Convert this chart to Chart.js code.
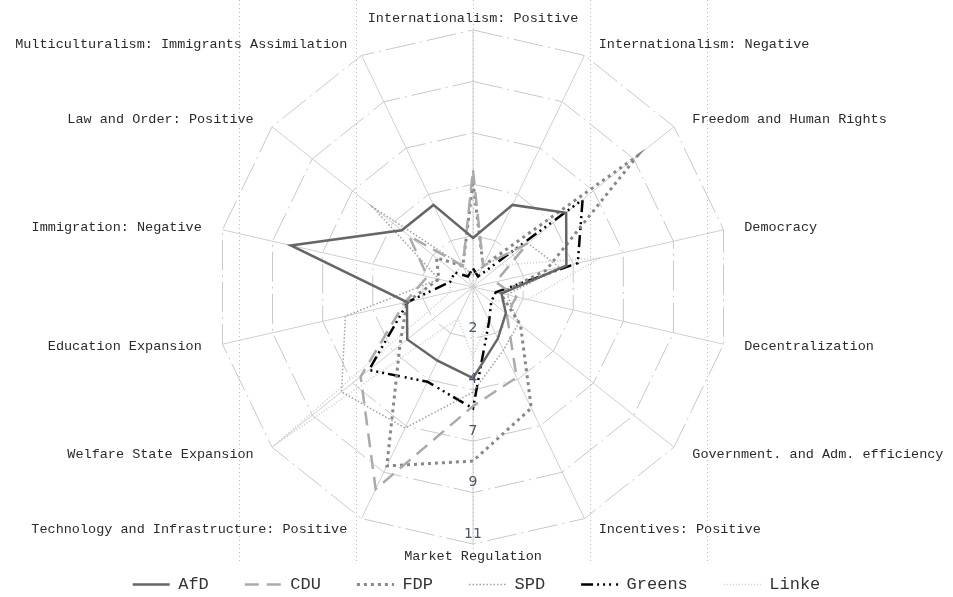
<!DOCTYPE html>
<html>
<head>
<meta charset="utf-8">
<script src="https://cdn.jsdelivr.net/npm/chart.js@4.4.1/dist/chart.umd.min.js"></script>
<style>
    html, body { margin: 0; padding: 0; background: #fff; }
    #wrap { width: 953px; height: 597px; }
</style>
</head>
<body>
<div id="wrap"><canvas id="radarChart" width="953" height="597"></canvas></div>
<script>
// Policy dimensions, clockwise from the top
const categories = [
    'Internationalism: Positive',
    'Internationalism: Negative',
    'Freedom and Human Rights',
    'Democracy',
    'Decentralization',
    'Government. and Adm. efficiency',
    'Incentives: Positive',
    'Market Regulation',
    'Technology and Infrastructure: Positive',
    'Welfare State Expansion',
    'Education Expansion',
    'Immigration: Negative',
    'Law and Order: Positive',
    'Multiculturalism: Immigrants Assimilation'
];

// Share of manifesto per dimension
const afdValues    = [2.1, 3.9, 5.1, 4.1, 1.25, 1.8, 2.45, 3.9, 3.5, 3.6, 2.9, 8.0, 3.9, 3.9];
const cduValues    = [5.0, 1.0, 3.0, 1.0, 1.9, 1.85, 4.3, 5.1, 9.6, 6.15, 3.0, 2.0, 3.5, 1.0];
const fdpValues    = [4.5, 1.0, 9.0, 3.2, 1.2, 2.6, 5.75, 7.45, 8.5, 4.0, 2.9, 1.5, 2.0, 1.0];
const spdValues    = [0.5, 1.0, 3.0, 3.8, 1.5, 2.5, 3.0, 4.5, 6.7, 7.2, 5.6, 1.5, 5.5, 1.0];
const greensValues = [0.8, 0.5, 6.0, 4.6, 1.0, 1.0, 1.6, 5.2, 4.5, 5.7, 2.85, 1.0, 1.0, 0.5];
const linkeValues  = [0.5, 0.5, 1.5, 5.6, 2.4, 1.0, 1.5, 3.0, 1.5, 10.9, 1.0, 1.0, 1.0, 1.0];

// Radial axis: 5 rings up to 11, labels rounded
const axisMax = 11;
const ringCount = 5;
// Vertical reference lines
const verticalMarks = [-10, -5, 0, 5, 10];

const labelFont = '13.5px "Liberation Mono", "Courier New", monospace';

// Fixed plot geometry
const plotCenter = { x: 473, y: 287 };
const plotRadius = 257;

const radarGeometry = {
    id: 'radarGeometry',
    afterLayout(chart) {
        const r = chart.scales.r;
        r.xCenter = plotCenter.x;
        r.yCenter = plotCenter.y;
        r.drawingArea = plotRadius;
    }
};

// Dotted vertical lines behind the datasets
const verticalGrid = {
    id: 'verticalGrid',
    beforeDatasetsDraw(chart) {
        const r = chart.scales.r;
        const ctx = chart.ctx;
        ctx.save();
        ctx.strokeStyle = '#bdbdbd';
        ctx.lineWidth = 1;
        ctx.setLineDash([1, 3]);
        verticalMarks.forEach(v => {
            const x = r.xCenter + Math.sign(v) * r.getDistanceFromCenterForValue(Math.abs(v));
            ctx.beginPath();
            ctx.moveTo(Math.round(x) + 0.5, 0);
            ctx.lineTo(Math.round(x) + 0.5, 564);
            ctx.stroke();
        });
        ctx.restore();
    }
};

// Ring values down the bottom spoke, and the category names
const axisText = {
    id: 'axisText',
    afterDatasetsDraw(chart) {
        const r = chart.scales.r;
        const ctx = chart.ctx;
        ctx.save();
        ctx.font = '14px "DejaVu Sans", Arial, sans-serif';
        ctx.fillStyle = '#4d5666';
        ctx.textAlign = 'center';
        ctx.textBaseline = 'middle';
        r.ticks.forEach((t, i) => {
            if (i === 0) return;
            const y = r.yCenter + r.getDistanceFromCenterForValue(t.value) - 10;
            ctx.fillText(String(Math.round(t.value)), r.xCenter, y);
        });

        ctx.font = labelFont;
        ctx.fillStyle = '#2b2b2b';
        categories.forEach((name, i) => {
            const p = r.getPointPosition(i, r.drawingArea + 12);
            let x = p.x;
            const dx = p.x - r.xCenter;
            if (Math.abs(dx) < 1) {
                ctx.textAlign = 'center';
            } else if (dx > 0) {
                ctx.textAlign = 'left';
                x += 9;
            } else {
                ctx.textAlign = 'right';
                x -= 9;
            }
            ctx.fillText(name, x, p.y);
        });
        ctx.restore();
    }
};

function series(label, data, color, width, dash) {
    return {
        label: label,
        data: data,
        borderColor: color,
        backgroundColor: 'transparent',
        borderWidth: width,
        borderDash: dash,
        fill: false,
        pointRadius: 0,
        pointHoverRadius: 0,
        tension: 0
    };
}

// Legend entries as line samples carrying each dataset's dash
function legendLines(chart) {
    return chart.data.datasets.map((ds, i) => ({
        text: ds.label,
        datasetIndex: i,
        hidden: false,
        fillStyle: 'transparent',
        strokeStyle: ds.borderColor,
        lineWidth: ds.borderWidth,
        lineDash: ds.borderDash,
        lineCap: 'butt',
        pointStyle: 'line',
        fontColor: '#333'
    }));
}

const ctx = document.getElementById('radarChart').getContext('2d');
const radarChart = new Chart(ctx, {
    type: 'radar',
    data: {
        labels: categories,
        datasets: [
            series('AfD', afdValues, '#666666', 2.5, []),
            series('CDU', cduValues, '#aaaaaa', 2.5, [14, 8]),
            series('FDP', fdpValues, '#888888', 3, [3, 4]),
            series('SPD', spdValues, '#a0a0a0', 1.5, [1.5, 2]),
            series('Greens', greensValues, '#000000', 2.5, [12, 4, 2, 4, 2, 4, 2, 5]),
            series('Linke', linkeValues, '#cccccc', 1.5, [1, 2])
        ]
    },
    options: {
        responsive: false,
        animation: false,
        layout: {
            padding: { top: 0, left: 0, right: 0, bottom: -6 }
        },
        scales: {
            r: {
                min: 0,
                max: axisMax,
                ticks: { count: ringCount + 1, display: false },
                pointLabels: { display: false },
                grid: { color: '#c8c8c8', lineWidth: 1 },
                border: { dash: [30, 5, 2, 5] },
                angleLines: { color: '#cfcfcf', lineWidth: 1 }
            }
        },
        plugins: {
            legend: {
                position: 'bottom',
                labels: {
                    usePointStyle: true,
                    pointStyle: 'line',
                    pointStyleWidth: 37,
                    padding: 36,
                    color: '#333',
                    font: { family: '"Liberation Mono", "Courier New", monospace', size: 17 },
                    generateLabels: legendLines
                }
            },
            tooltip: { enabled: false }
        }
    },
    plugins: [radarGeometry, verticalGrid, axisText]
});
</script>
</body>
</html>
